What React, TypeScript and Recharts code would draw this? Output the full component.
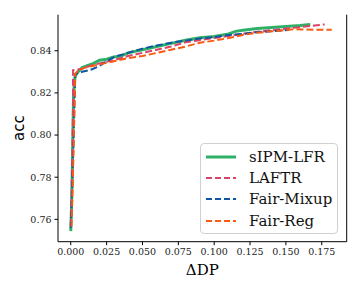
import React from 'react';
import { LineChart, Line, XAxis, YAxis, ReferenceLine } from 'recharts';

const xTicks = [0, 0.025, 0.05, 0.075, 0.1, 0.125, 0.15, 0.175];
const yTicks = [0.76, 0.78, 0.8, 0.82, 0.84];

const sipmX = [0.0, 0.0005, 0.001, 0.0015, 0.002, 0.003, 0.005, 0.008, 0.012, 0.016, 0.02, 0.025, 0.03, 0.035, 0.04, 0.05, 0.06, 0.07, 0.08, 0.09, 0.1, 0.11, 0.115, 0.12, 0.13, 0.14, 0.15, 0.16, 0.167];
const sipmY = [0.7544, 0.765, 0.78, 0.8, 0.82, 0.828, 0.83, 0.832, 0.833, 0.834, 0.8355, 0.836, 0.837, 0.8375, 0.839, 0.8405, 0.842, 0.8435, 0.845, 0.8462, 0.8468, 0.848, 0.8492, 0.8497, 0.8505, 0.851, 0.8515, 0.852, 0.8525];

const laftrX = [0.0, 0.0005, 0.001, 0.0015, 0.0016, 0.004, 0.008, 0.012, 0.02, 0.03, 0.04, 0.05, 0.06, 0.07, 0.08, 0.09, 0.1, 0.11, 0.12, 0.13, 0.14, 0.15, 0.16, 0.17, 0.177];
const laftrY = [0.757, 0.77, 0.79, 0.81, 0.8308, 0.831, 0.8315, 0.8325, 0.834, 0.8355, 0.8375, 0.839, 0.8405, 0.842, 0.844, 0.845, 0.846, 0.847, 0.848, 0.849, 0.8498, 0.8505, 0.8512, 0.852, 0.8525];

const mixupX = [0.0, 0.001, 0.002, 0.003, 0.0032, 0.008, 0.014, 0.019, 0.025, 0.03, 0.04, 0.05, 0.06, 0.07, 0.08, 0.09, 0.1, 0.11, 0.12, 0.13, 0.14, 0.152];
const mixupY = [0.7559, 0.775, 0.8, 0.825, 0.829, 0.83, 0.831, 0.8324, 0.835, 0.837, 0.839, 0.841, 0.8425, 0.8438, 0.8448, 0.8458, 0.8465, 0.8475, 0.848, 0.8488, 0.8493, 0.8498];

const regX = [0.0005, 0.0015, 0.0025, 0.003, 0.005, 0.01, 0.02, 0.03, 0.04, 0.05, 0.06, 0.07, 0.08, 0.09, 0.1, 0.11, 0.12, 0.13, 0.14, 0.15, 0.156, 0.17, 0.182];
const regY = [0.7565, 0.78, 0.81, 0.829, 0.8305, 0.832, 0.8335, 0.835, 0.8365, 0.8375, 0.839, 0.8405, 0.842, 0.8438, 0.8448, 0.846, 0.8475, 0.8485, 0.8492, 0.8498, 0.8502, 0.85, 0.85];

const toPoints = (xs: number[], ys: number[]) => xs.map((x, i) => ({ x, y: ys[i] }));

const series = [
  { name: 'sIPM-LFR', data: toPoints(sipmX, sipmY), color: '#2eb066', width: 3, dash: undefined },
  { name: 'LAFTR', data: toPoints(laftrX, laftrY), color: '#d9426b', width: 2, dash: '7 3' },
  { name: 'Fair-Mixup', data: toPoints(mixupX, mixupY), color: '#0f56a3', width: 2, dash: '7 3' },
  { name: 'Fair-Reg', data: toPoints(regX, regY), color: '#fb5a10', width: 2, dash: '7 3' },
];

const xDomain = [-0.0089, 0.1924];
const yDomain = [0.7494, 0.8571];

const tickStyle = { fontFamily: 'DejaVu Serif', fontSize: 9.5, fill: '#222' };

const LegendBox = () => (
  <div
    style={{
      position: 'absolute',
      left: 200,
      top: 143,
      width: 138,
      height: 91,
      border: '1px solid #d0d0d0',
      borderRadius: 4,
      background: 'rgba(255,255,255,0.8)',
      boxSizing: 'border-box',
      paddingTop: 2,
    }}
  >
    {series.map((s) => (
      <div key={s.name} style={{ display: 'flex', alignItems: 'center', height: 21.3 }}>
        <svg width={44} height={10} style={{ marginLeft: 4 }}>
          <line x1={1} y1={5} x2={31} y2={5} stroke={s.color} strokeWidth={s.width} strokeDasharray={s.dash ? '6 3' : undefined} />
        </svg>
        <span style={{ fontFamily: 'DejaVu Serif', fontSize: 15, color: '#111', whiteSpace: 'nowrap' }}>{s.name}</span>
      </div>
    ))}
  </div>
);

export default function App() {
  return (
    <div style={{ position: 'absolute', left: 0, top: 0, width: 360, height: 288, background: '#fff' }}>
      <LineChart width={360} height={288} margin={{ top: 14.7, right: 13.3, left: 0, bottom: 6.3 }}>
        <XAxis
          dataKey="x"
          type="number"
          domain={xDomain}
          ticks={xTicks}
          allowDataOverflow
          tickFormatter={(v: number) => v.toFixed(3)}
          tick={tickStyle}
          tickSize={3.5}
          tickMargin={3}
          stroke="#000"
          height={40}
          label={{ value: 'ΔDP', position: 'insideBottom', offset: 7, style: { fontFamily: 'DejaVu Serif', fontSize: 15, fill: '#000' } }}
        />
        <XAxis xAxisId="top" dataKey="x" orientation="top" type="number" domain={xDomain} allowDataOverflow tick={false} tickLine={false} height={0} stroke="#000" />
        <YAxis
          type="number"
          domain={yDomain}
          ticks={yTicks}
          allowDataOverflow
          tickFormatter={(v: number) => v.toFixed(2)}
          tick={tickStyle}
          tickSize={3.5}
          tickMargin={3}
          stroke="#000"
          width={58}
          label={{ value: 'acc', angle: -90, position: 'insideLeft', offset: 19, style: { fontFamily: 'DejaVu Sans', fontSize: 15, fill: '#000', textAnchor: 'middle' } }}
        />
        <ReferenceLine x={xDomain[1]} stroke="#000" strokeWidth={1} />
        {series.map((s) => (
          <Line
            key={s.name}
            data={s.data}
            dataKey="y"
            name={s.name}
            stroke={s.color}
            strokeWidth={s.width}
            strokeDasharray={s.dash}
            dot={false}
            isAnimationActive={false}
          />
        ))}
      </LineChart>
      <LegendBox />
    </div>
  );
}
